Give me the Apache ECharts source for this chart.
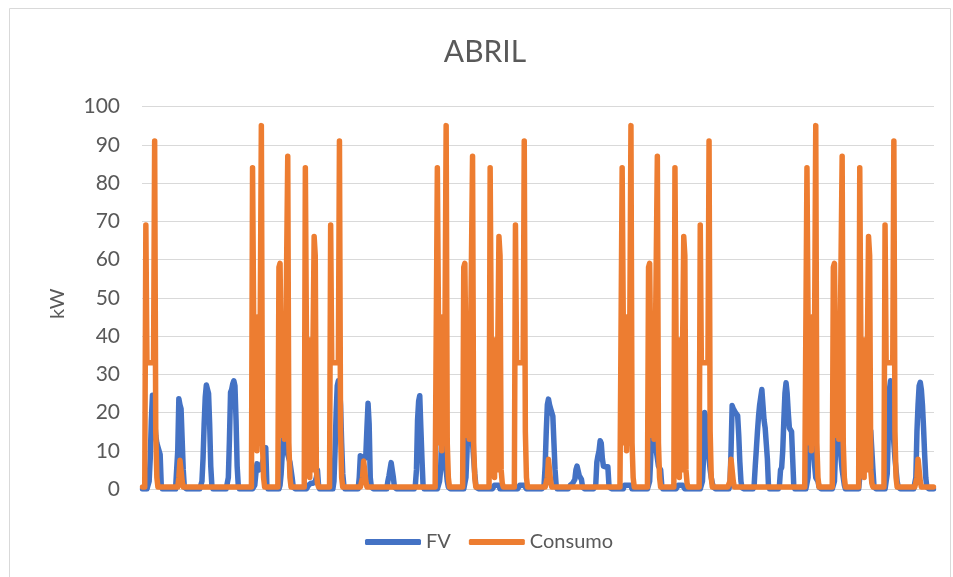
<!DOCTYPE html>
<html>
<head>
<meta charset="utf-8">
<title>ABRIL</title>
<script src="https://cdn.jsdelivr.net/npm/echarts@6/dist/echarts.min.js"></script>
<style>
  html, body { margin: 0; padding: 0; background: #fff; }
  #chart { width: 953px; height: 577px; }
</style>
</head>
<body>
<div id="chart"></div>
<script>
// April, hourly values (one row = one day, hours 0..23)
const dayNumbers = [1, 2, 3, 4, 5, 6, 7, 8, 9, 10, 11, 12, 13, 14, 15, 16, 17, 18, 19, 20, 21, 22, 23, 24, 25, 26, 27, 28, 29, 30]
const hourLabels = ['00', '01', '02', '03', '04', '05', '06', '07', '08', '09', '10', '11', '12', '13', '14', '15', '16', '17', '18', '19', '20', '21', '22', '23']
const yTicks = [0, 10, 20, 30, 40, 50, 60, 70, 80, 90, 100]

// FV (kW)
const fv = [
  0, 0, 0, 0, 0, 0, 2, 8, 18, 24.5, 22, 18, 14, 12, 11, 10, 9, 1, 0, 0, 0, 0, 0, 0,
  0, 0, 0, 0, 0, 0, 0, 0.5, 10, 23.6, 22, 21, 20.5, 5, 0.5, 0, 0, 0, 0, 0, 0, 0, 0, 0,
  0, 0, 0, 0, 0, 0, 2, 8, 17, 24, 27.2, 27.5, 25, 17, 6, 1, 0, 0, 0, 0, 0, 0, 0, 0,
  0, 0, 0, 0, 0, 0, 3, 13, 25.3, 26, 27.5, 28.3, 27, 18, 6, 1, 0, 0, 0, 0, 0, 0, 0, 0,
  0, 0, 0, 0, 0, 0, 1, 4, 6.6, 6, 5, 5, 6, 7, 8, 9, 10.8, 1, 0, 0, 0, 0, 0, 0,
  0, 0, 0, 0, 0, 1, 4, 9, 13.5, 12, 11, 10, 9, 8, 7, 6.5, 3, 0.5, 0, 0, 0, 0, 0, 0,
  0, 0, 0, 0, 0, 0, 0, 1, 1.5, 1.5, 1.5, 1.5, 1.5, 2, 3, 5, 1, 0, 0, 0, 0, 0, 0, 0,
  0, 0, 0, 0, 0, 0, 2, 10, 20, 27, 28.3, 27, 22, 12, 4, 1, 0, 0, 0, 0, 0, 0, 0, 0,
  0, 0, 0, 0, 0, 3, 8.7, 8.7, 8.3, 8, 8, 9, 16, 22.4, 17, 3, 0.5, 0, 0, 0, 0, 0, 0, 0,
  0, 0, 0, 0, 0, 0, 0, 2, 3.4, 3.5, 6.9, 6.5, 3, 0.5, 0, 0, 0, 0, 0, 0, 0, 0, 0, 0,
  0, 0, 0, 0, 0, 0, 0, 0, 1, 5, 18, 23, 24.4, 16, 8, 1, 0, 0, 0, 0, 0, 0, 0, 0,
  0, 0, 0, 0, 0, 0, 2, 5, 15, 26.2, 20, 10, 5, 2, 0.5, 0, 0, 0, 0, 0, 0, 0, 0, 0,
  0, 0, 0, 0, 0, 0, 3, 10, 20, 25.3, 23, 18, 12, 8, 4, 1, 0.3, 0, 0, 0, 0, 0, 0, 0,
  0, 0, 0, 0, 0, 0, 0, 0, 1, 1, 1, 1, 1, 0, 0, 0, 0, 0, 0, 0, 0, 0, 0, 0,
  0, 0, 0, 0, 0, 0, 0, 1, 1, 1, 1, 1, 1, 0, 0, 0, 0, 0, 0, 0, 0, 0, 0, 0,
  0, 0, 0, 0, 0, 1, 6, 15, 22, 23.5, 22, 21, 20.5, 19, 12, 5, 1, 0, 0, 0, 0, 0, 0, 0,
  0, 0, 0, 0, 0, 1, 1.5, 1.5, 2, 2.5, 5, 6, 5.5, 3.5, 3, 2.5, 0.5, 0, 0, 0, 0, 0, 0, 0,
  0, 0, 0, 0, 1, 7, 8.7, 10, 12.6, 12, 8, 6, 5.5, 5.8, 6, 5.8, 1, 0.3, 0, 0, 0, 0, 0, 0,
  0, 0, 0, 0, 0, 0, 1, 1, 1, 1, 1, 1, 1, 0, 0, 0, 0, 0, 0, 0, 0, 0, 0, 0,
  0, 0, 0, 0, 0, 2, 8, 18, 25.3, 22, 15, 10, 8, 6, 5.6, 5, 1, 0, 0, 0, 0, 0, 0, 0,
  0, 0, 0, 0, 0, 0, 0, 1, 1, 1, 1, 1, 1, 0, 0, 0, 0, 0, 0, 0, 0, 0, 0, 0,
  0, 0, 0, 0, 0, 2, 8, 20, 19, 15, 10, 8, 5, 3, 1.5, 0.5, 0, 0, 0, 0, 0, 0, 0, 0,
  0, 0, 0, 0, 0, 0, 1, 10, 21.8, 21, 20.5, 20, 19.5, 19.2, 14, 7, 2, 0.3, 0, 0, 0, 0, 0, 0,
  0, 0, 0, 0, 1, 6, 10.4, 15, 19, 22, 24, 26, 22, 18, 16, 15.7, 8, 1, 0, 0, 0, 0, 0, 0,
  0, 0, 0, 1, 5, 5.6, 10, 18, 25, 27.8, 25, 20, 16, 15.5, 15, 8, 1, 0, 0, 0, 0, 0, 0, 0,
  0, 0, 0, 0, 0, 3, 12, 23, 20, 15, 10, 6, 3, 2.6, 2, 0.5, 0, 0, 0, 0, 0, 0, 0, 0,
  0, 0, 0, 0, 0, 2, 10, 24, 24.4, 18, 12, 8, 5, 3, 1, 0, 0, 0, 0, 0, 0, 0, 0, 0,
  0, 0, 0, 0, 3, 12, 18, 20.7, 20, 19, 18, 17, 16, 15.5, 15.2, 15, 5, 0.5, 0, 0, 0, 0, 0, 0,
  0, 0, 0, 0, 0, 4, 15, 26, 28.3, 25, 18, 12, 8, 5, 2, 0.5, 0, 0, 0, 0, 0, 0, 0, 0,
  0, 0, 0, 0, 0, 0, 0, 3, 15, 22, 27, 27.9, 26, 22, 16, 9, 3, 0.5, 0, 0, 0, 0, 0, 0
]

// Consumo (kW)
const consumo = [
  0.5, 0.5, 0.5, 69, 33, 33, 33, 33, 33, 33, 33, 91, 15, 3, 0.5, 0.5, 0.5, 0.5, 0.5, 0.5, 0.5, 0.5, 0.5, 0.5,
  0.5, 0.5, 0.5, 0.5, 0.5, 0.5, 0.5, 0.5, 0.5, 3, 7.5, 7.5, 2, 0.5, 0.5, 0.5, 0.5, 0.5, 0.5, 0.5, 0.5, 0.5, 0.5, 0.5,
  0.5, 0.5, 0.5, 0.5, 0.5, 0.5, 0.5, 0.5, 0.5, 0.5, 0.5, 0.5, 0.5, 0.5, 0.5, 0.5, 0.5, 0.5, 0.5, 0.5, 0.5, 0.5, 0.5, 0.5,
  0.5, 0.5, 0.5, 0.5, 0.5, 0.5, 0.5, 0.5, 0.5, 0.5, 0.5, 0.5, 0.5, 0.5, 0.5, 0.5, 0.5, 0.5, 0.5, 0.5, 0.5, 0.5, 0.5, 0.5,
  0.5, 0.5, 0.5, 0.5, 84, 45, 12, 45, 10, 45, 12, 45, 95, 12, 3, 0.5, 0.5, 0.5, 0.5, 0.5, 0.5, 0.5, 0.5, 0.5,
  0.5, 0.5, 0.5, 0.5, 58, 59, 33, 14, 33, 13, 33, 33, 87, 12, 3, 0.5, 0.5, 0.5, 0.5, 0.5, 0.5, 0.5, 0.5, 0.5,
  0.5, 0.5, 0.5, 0.5, 84, 39, 5, 39, 3, 39, 5, 39, 66, 61, 5, 1.5, 0.5, 0.5, 0.5, 0.5, 0.5, 0.5, 0.5, 0.5,
  0.5, 0.5, 0.5, 69, 33, 33, 33, 33, 33, 33, 33, 91, 15, 3, 0.5, 0.5, 0.5, 0.5, 0.5, 0.5, 0.5, 0.5, 0.5, 0.5,
  0.5, 0.5, 0.5, 0.5, 0.5, 0.5, 0.5, 0.5, 3, 7.3, 7.3, 2, 0.5, 0.5, 0.5, 0.5, 0.5, 0.5, 0.5, 0.5, 0.5, 0.5, 0.5, 0.5,
  0.5, 0.5, 0.5, 0.5, 0.5, 0.5, 0.5, 0.5, 0.5, 0.5, 0.5, 0.5, 0.5, 0.5, 0.5, 0.5, 0.5, 0.5, 0.5, 0.5, 0.5, 0.5, 0.5, 0.5,
  0.5, 0.5, 0.5, 0.5, 0.5, 0.5, 0.5, 0.5, 0.5, 0.5, 0.5, 0.5, 0.5, 0.5, 0.5, 0.5, 0.5, 0.5, 0.5, 0.5, 0.5, 0.5, 0.5, 0.5,
  0.5, 0.5, 0.5, 0.5, 84, 45, 12, 45, 10, 45, 12, 45, 95, 12, 3, 0.5, 0.5, 0.5, 0.5, 0.5, 0.5, 0.5, 0.5, 0.5,
  0.5, 0.5, 0.5, 0.5, 58, 59, 33, 14, 33, 13, 33, 33, 87, 12, 3, 0.5, 0.5, 0.5, 0.5, 0.5, 0.5, 0.5, 0.5, 0.5,
  0.5, 0.5, 0.5, 0.5, 84, 39, 5, 39, 3, 39, 5, 39, 66, 61, 5, 1.5, 0.5, 0.5, 0.5, 0.5, 0.5, 0.5, 0.5, 0.5,
  0.5, 0.5, 0.5, 69, 33, 33, 33, 33, 33, 33, 33, 91, 15, 3, 0.5, 0.5, 0.5, 0.5, 0.5, 0.5, 0.5, 0.5, 0.5, 0.5,
  0.5, 0.5, 0.5, 0.5, 0.5, 0.5, 0.5, 0.5, 3, 7.8, 7.5, 2, 0.5, 0.5, 0.5, 0.5, 0.5, 0.5, 0.5, 0.5, 0.5, 0.5, 0.5, 0.5,
  0.5, 0.5, 0.5, 0.5, 0.5, 0.5, 0.5, 0.5, 0.5, 0.5, 0.5, 0.5, 0.5, 0.5, 0.5, 0.5, 0.5, 0.5, 0.5, 0.5, 0.5, 0.5, 0.5, 0.5,
  0.5, 0.5, 0.5, 0.5, 0.5, 0.5, 0.5, 0.5, 0.5, 0.5, 0.5, 0.5, 0.5, 0.5, 0.5, 0.5, 0.5, 0.5, 0.5, 0.5, 0.5, 0.5, 0.5, 0.5,
  0.5, 0.5, 0.5, 0.5, 84, 45, 12, 45, 10, 45, 12, 45, 95, 12, 3, 0.5, 0.5, 0.5, 0.5, 0.5, 0.5, 0.5, 0.5, 0.5,
  0.5, 0.5, 0.5, 0.5, 58, 59, 33, 14, 33, 13, 33, 33, 87, 12, 3, 0.5, 0.5, 0.5, 0.5, 0.5, 0.5, 0.5, 0.5, 0.5,
  0.5, 0.5, 0.5, 0.5, 84, 39, 5, 39, 3, 39, 5, 39, 66, 61, 5, 1.5, 0.5, 0.5, 0.5, 0.5, 0.5, 0.5, 0.5, 0.5,
  0.5, 0.5, 0.5, 69, 33, 33, 33, 33, 33, 33, 33, 91, 15, 3, 0.5, 0.5, 0.5, 0.5, 0.5, 0.5, 0.5, 0.5, 0.5, 0.5,
  0.5, 0.5, 0.5, 0.5, 0.5, 0.5, 2, 7.8, 7.8, 2, 0.5, 0.5, 0.5, 0.5, 0.5, 0.5, 0.5, 0.5, 0.5, 0.5, 0.5, 0.5, 0.5, 0.5,
  0.5, 0.5, 0.5, 0.5, 0.5, 0.5, 0.5, 0.5, 0.5, 0.5, 0.5, 0.5, 0.5, 0.5, 0.5, 0.5, 0.5, 0.5, 0.5, 0.5, 0.5, 0.5, 0.5, 0.5,
  0.5, 0.5, 0.5, 0.5, 0.5, 0.5, 0.5, 0.5, 0.5, 0.5, 0.5, 0.5, 0.5, 0.5, 0.5, 0.5, 0.5, 0.5, 0.5, 0.5, 0.5, 0.5, 0.5, 0.5,
  0.5, 0.5, 0.5, 0.5, 84, 45, 12, 45, 10, 45, 12, 45, 95, 12, 3, 0.5, 0.5, 0.5, 0.5, 0.5, 0.5, 0.5, 0.5, 0.5,
  0.5, 0.5, 0.5, 0.5, 58, 59, 33, 14, 33, 13, 33, 33, 87, 12, 3, 0.5, 0.5, 0.5, 0.5, 0.5, 0.5, 0.5, 0.5, 0.5,
  0.5, 0.5, 0.5, 0.5, 84, 39, 5, 39, 3, 39, 5, 39, 66, 61, 5, 1.5, 0.5, 0.5, 0.5, 0.5, 0.5, 0.5, 0.5, 0.5,
  0.5, 0.5, 0.5, 69, 33, 33, 33, 33, 33, 33, 33, 91, 15, 3, 0.5, 0.5, 0.5, 0.5, 0.5, 0.5, 0.5, 0.5, 0.5, 0.5,
  0.5, 0.5, 0.5, 0.5, 0.5, 0.5, 0.5, 0.5, 3, 7.8, 7.8, 2, 0.5, 0.5, 0.5, 0.5, 0.5, 0.5, 0.5, 0.5, 0.5, 0.5, 0.5, 0.5
]

const textColor = '#595959'
const fontFamily = 'Lato, "Open Sans", sans-serif'

// one category per hour of the month
const timeLabels = []
dayNumbers.forEach(d => {
  hourLabels.forEach(h => {
    timeLabels.push(d + '/04 ' + h + ':00')
  })
})

const chart = echarts.init(document.getElementById('chart'))

chart.setOption({
  animation: false,
  backgroundColor: '#fff',
  textStyle: { fontFamily },
  title: {
    text: 'ABRIL',
    left: 480,
    top: 32,
    textAlign: 'center',
    textStyle: {
      fontSize: 30,
      fontWeight: 'normal',
      color: textColor,
      fontFamily
    }
  },
  legend: {
    left: 360,
    top: 527,
    itemWidth: 56,
    itemHeight: 6,
    itemGap: 18,
    icon: 'roundRect',
    textStyle: { fontSize: 20, color: textColor, fontFamily },
    data: ['FV', 'Consumo']
  },
  grid: {
    left: 142,
    top: 106.5,
    width: 792,
    height: 382.5
  },
  xAxis: {
    type: 'category',
    data: timeLabels,
    boundaryGap: true,
    axisLine: { lineStyle: { color: '#d9d9d9' } },
    axisTick: { show: false },
    axisLabel: { show: false }
  },
  yAxis: {
    type: 'value',
    min: yTicks[0],
    max: yTicks[yTicks.length - 1],
    interval: 10,
    name: 'kW',
    nameLocation: 'middle',
    nameGap: 74,
    nameTextStyle: { fontSize: 20, color: textColor, fontFamily, padding: [0, 12, 0, 0] },
    axisLine: { show: false },
    axisTick: { show: false },
    axisLabel: { fontSize: 21, color: textColor, margin: 22, fontFamily },
    splitLine: { lineStyle: { color: '#d9d9d9', width: 1 } }
  },
  series: [{
    name: 'FV',
    type: 'line',
    data: fv,
    showSymbol: false,
    symbol: 'none',
    color: '#4472C4',
    lineStyle: { width: 5.5, join: 'round', cap: 'round' }
  }, {
    name: 'Consumo',
    type: 'line',
    data: consumo,
    showSymbol: false,
    symbol: 'none',
    color: '#ED7D31',
    lineStyle: { width: 5.5, join: 'round', cap: 'round' }
  }],
  graphic: [{
    type: 'rect',
    silent: true,
    shape: { x: 9.5, y: 8.5, width: 941, height: 580 },
    style: { fill: 'none', stroke: '#d9d9d9', lineWidth: 1 }
  }]
})
</script>
</body>
</html>
